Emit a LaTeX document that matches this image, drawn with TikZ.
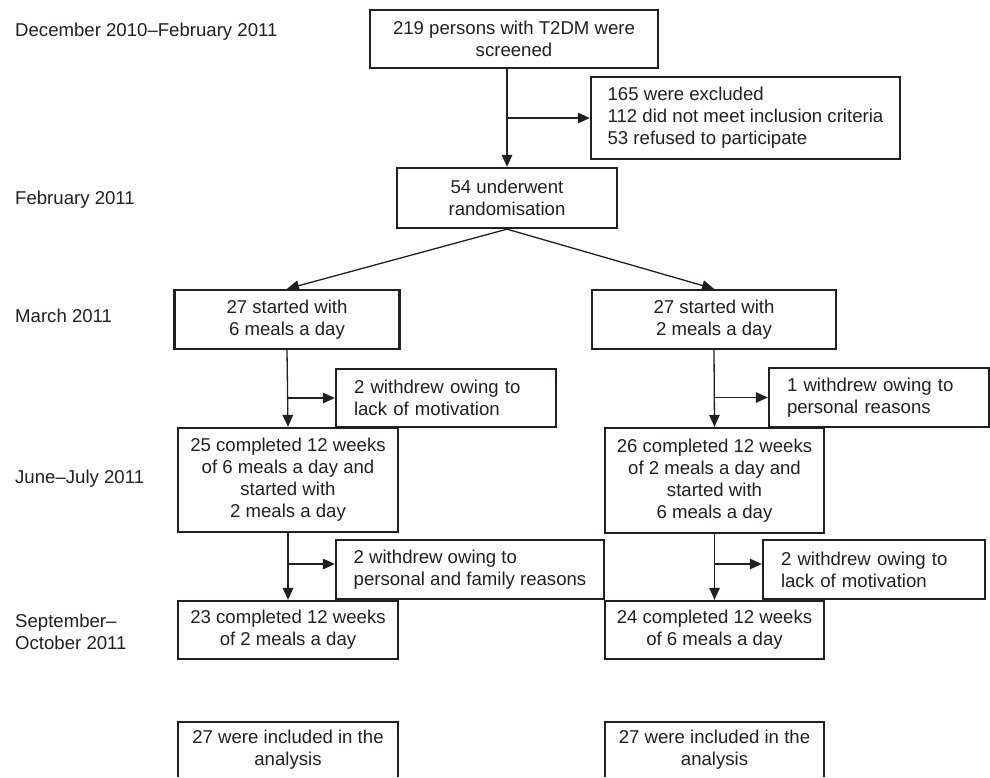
\documentclass[tikz,border=0pt]{standalone}
\usepackage{fontspec}
\setmainfont{Liberation Sans}
\usetikzlibrary{arrows.meta}
\definecolor{ink}{RGB}{35,31,32}
\begin{document}
\begin{tikzpicture}[x=1pt,y=-1pt,
  every node/.style={text=ink, font=\fontsize{18.6}{22}\selectfont},
  box/.style={draw=ink, line width=2.3pt, align=center, inner sep=0pt},
  lbox/.style={box, align=left, inner xsep=18pt},
  nbox/.style={box, align=left},
  lab/.style={anchor=west, align=left, inner sep=0pt},
  conn/.style={draw=ink, line width=1.3pt},
  arr/.style={conn, -{Triangle[length=12pt,width=10.5pt]}}]
\useasboundingbox (0,0) rectangle (990,777);

% time labels
\node[lab] (t1) at (15,32) {December 2010–February 2011};
\node[lab] (t2) at (15,200) {February 2011};
\node[lab] (t3) at (15,316) {March 2011};
\node[lab] (t4) at (15,479) {June–July 2011};
\node[lab] (t5) at (15,632) {September–\\October 2011};

% boxes
\node[box, minimum width=288pt, minimum height=58pt] (A) at (514,39) {219 persons with T2DM were\\screened};
\node[nbox, minimum width=309pt, minimum height=82pt] (B) at (745.5,118) {165 were excluded\\112 did not meet inclusion criteria\\53 refused to participate};
\node[box, minimum width=220pt, minimum height=60pt] (C) at (507,198) {54 underwent\\randomisation};

\node[box, minimum width=225pt, minimum height=59pt] (L1) at (287,319.5) {27 started with\\6 meals a day};
\node[lbox, minimum width=220pt, minimum height=58pt, text width=184pt] (W1) at (446,398) {2 withdrew owing to\\lack of motivation};
\node[box, minimum width=220pt, minimum height=104pt] (L2) at (288,480) {25 completed 12 weeks\\of 6 meals a day and\\started with\\2 meals a day};
\node[nbox, minimum width=268pt, minimum height=59pt] (W2) at (470,569.5) {2 withdrew owing to\\personal and family reasons};
\node[box, minimum width=220pt, minimum height=58pt] (L3) at (288,630) {23 completed 12 weeks\\of 2 meals a day};
\node[inner sep=0pt, minimum width=220pt, minimum height=55pt, align=center] (L4) at (288,749.5) {27 were included in the\\analysis};

\node[box, minimum width=244pt, minimum height=59pt] (R1) at (714,319.5) {27 started with\\2 meals a day};
\node[lbox, minimum width=220pt, minimum height=59pt, text width=184pt] (W3) at (879,397.5) {1 withdrew owing to\\personal reasons};
\node[box, minimum width=219pt, minimum height=105pt] (R2) at (714.5,480.5) {26 completed 12 weeks\\of 2 meals a day and\\started with\\6 meals a day};
\node[lbox, minimum width=222pt, minimum height=59pt, text width=186pt] (W4) at (874,569.5) {2 withdrew owing to\\lack of motivation};
\node[box, minimum width=219pt, minimum height=58pt] (R3) at (714.5,630) {24 completed 12 weeks\\of 6 meals a day};
\node[inner sep=0pt, minimum width=219pt, minimum height=55pt, align=center] (R4) at (714.5,749.5) {27 were included in the\\analysis};

% open-bottom frames of the last boxes
\draw[draw=ink, line width=2.3pt] (L4.south west) -- (L4.north west) -- (L4.north east) -- (L4.south east);
\draw[draw=ink, line width=2.3pt] (R4.south west) -- (R4.north west) -- (R4.north east) -- (R4.south east);

% connectors
\draw[arr] (A.south -| C) -- (C.north);
\draw[arr] (C |- B.west) -- (B.west);
\draw[arr] (C.south) -- (L1.north);
\draw[arr] (C.south) -- (R1.north);

\draw[arr] (L1.south) -- (L2.north);
\draw[arr] (L1.south |- W1.west) -- (W1.west);
\coordinate (j2) at (288,564);
\draw[arr] (L2.south) -- (L3.north);
\draw[arr] (j2) -- (j2 -| W2.west);

\draw[arr] (R1.south) -- (R2.north);
\draw[arr] (R1.south |- W3.west) -- (W3.west);
\coordinate (j4) at (714.5,564);
\draw[arr] (R2.south) -- (R3.north);
\draw[arr] (j4) -- (j4 -| W4.west);
\end{tikzpicture}
\end{document}
